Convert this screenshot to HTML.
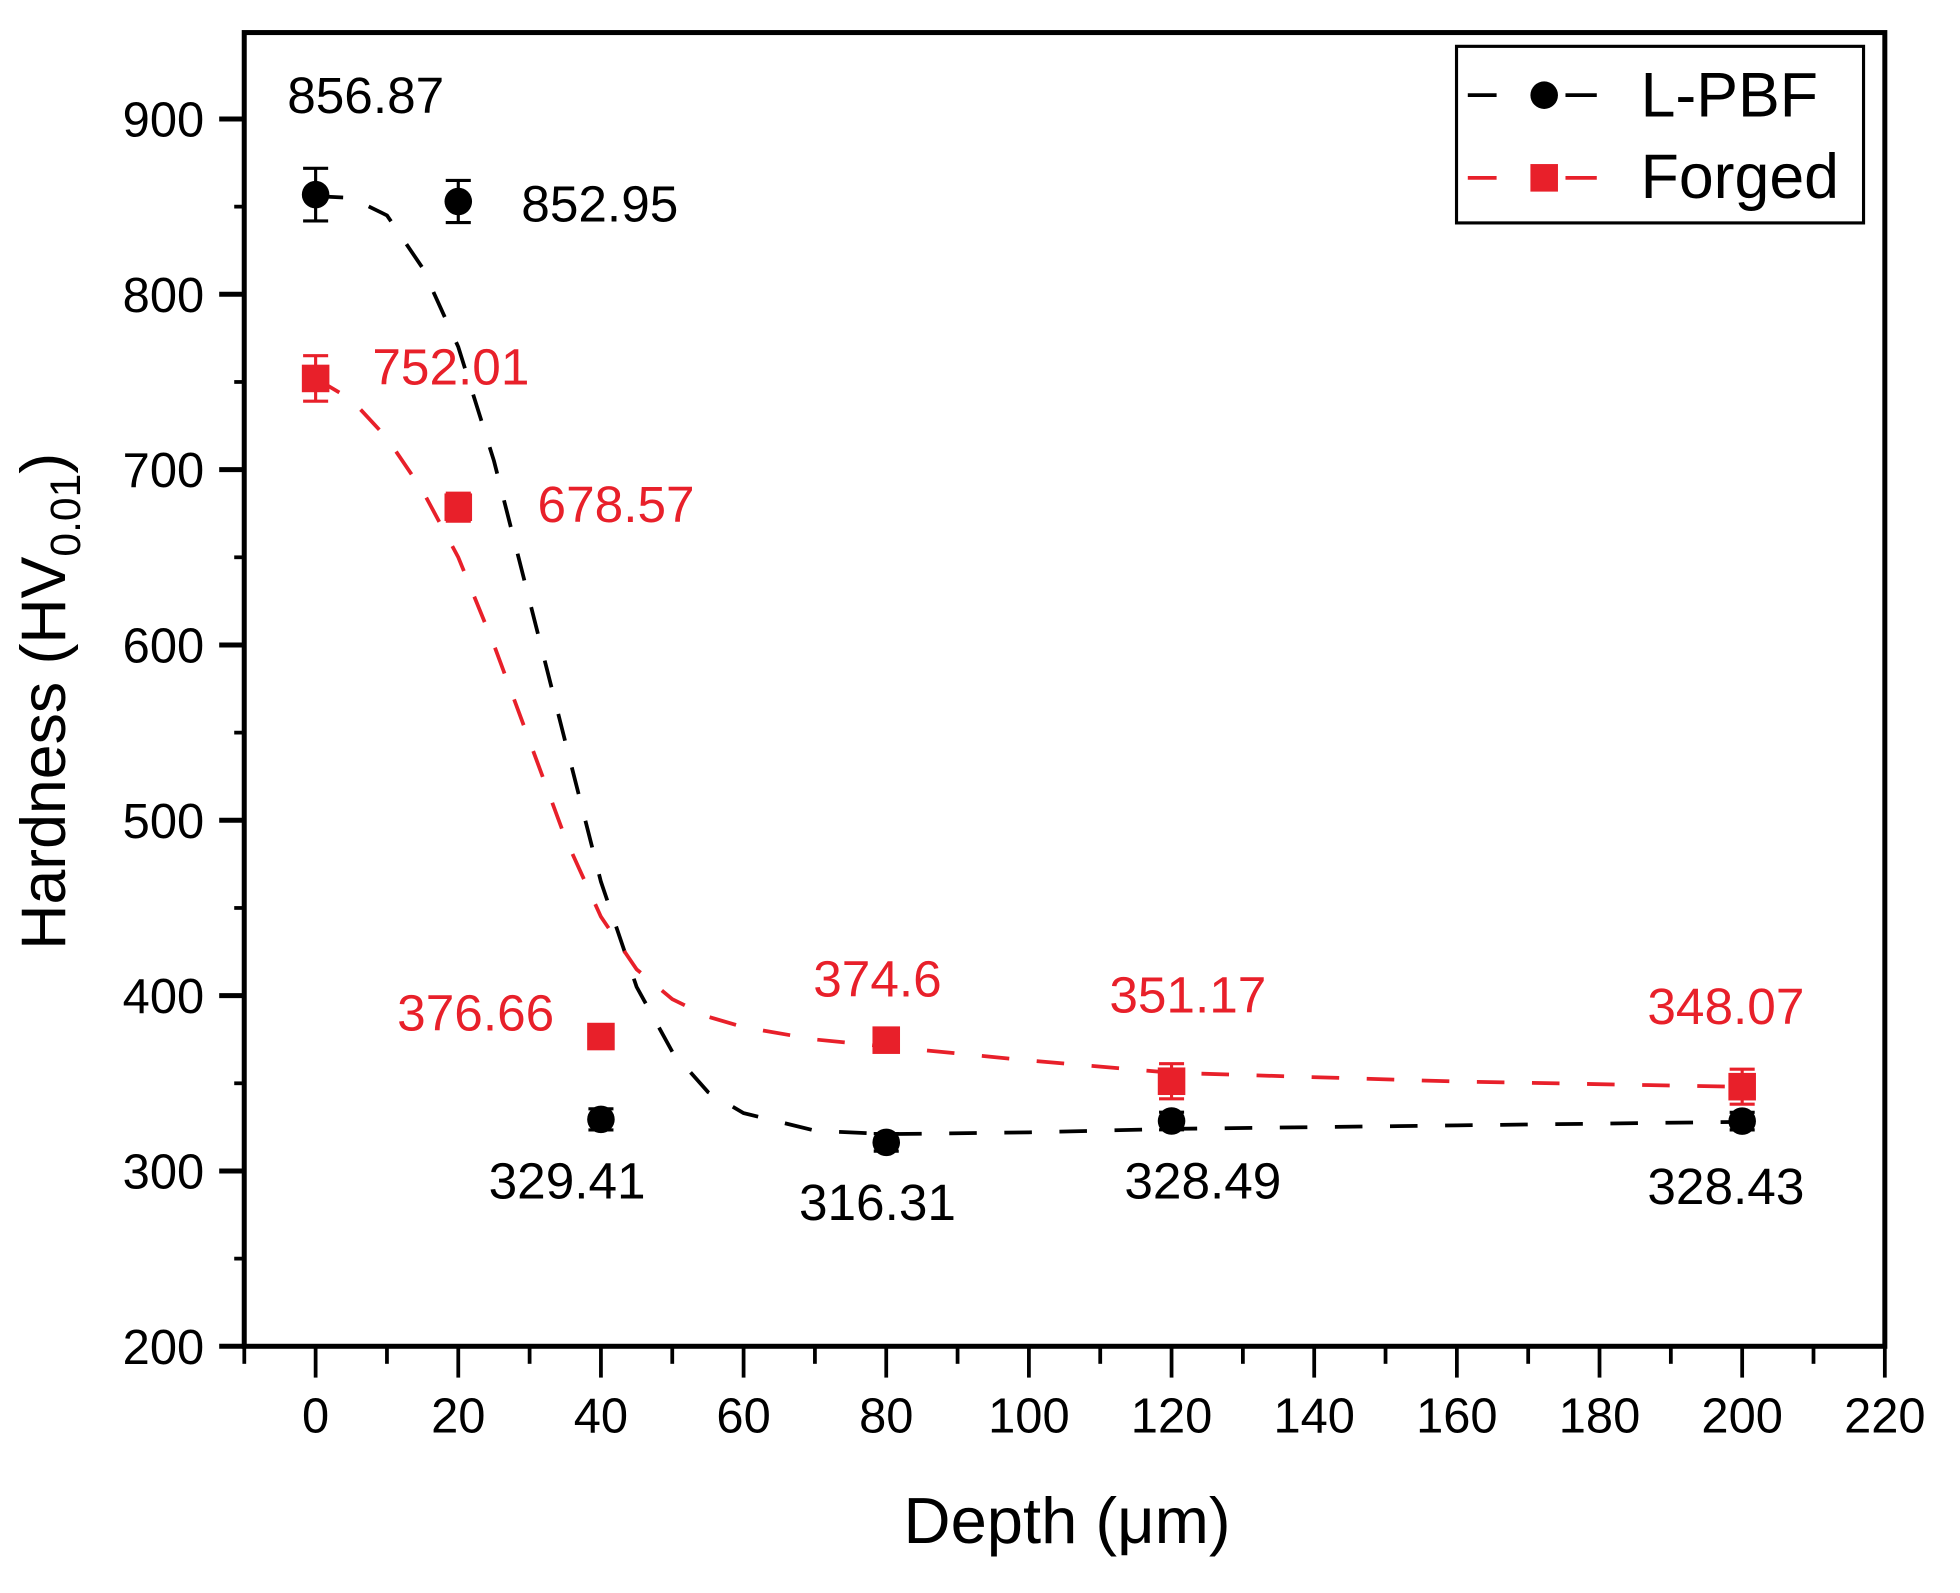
<!DOCTYPE html>
<html><head><meta charset="utf-8"><style>
html,body{margin:0;padding:0;background:#fff;}
svg{display:block;font-family:"Liberation Sans",Arial,sans-serif;}
</style></head><body>
<svg id="chart" width="1960" height="1593" viewBox="0 0 1565 1272" xmlns="http://www.w3.org/2000/svg">
<g id="axes"></g>
<g id="curves"></g>
<g id="marks"></g>
<g id="labels"></g>
<text x="852" y="1232" font-size="52" text-anchor="middle">Depth (μm)</text>
<text transform="translate(52,560) rotate(-90)" font-size="50" text-anchor="middle">Hardness (HV<tspan font-size="34" dy="12">0.01</tspan><tspan dy="-12">)</tspan></text>
<g>
<rect x="1163" y="37" width="325" height="141" fill="#fff" stroke="#000" stroke-width="2.5"/>
<line x1="1172" y1="76" x2="1195" y2="76" stroke="#000" stroke-width="3"/>
<line x1="1250" y1="76" x2="1275" y2="76" stroke="#000" stroke-width="3"/>
<circle cx="1233" cy="76" r="11" fill="#000"/>
<text x="1310" y="93" font-size="50">L-PBF</text>
<line x1="1172" y1="142" x2="1195" y2="142" stroke="#e8202a" stroke-width="3"/>
<line x1="1250" y1="142" x2="1275" y2="142" stroke="#e8202a" stroke-width="3"/>
<rect x="1222" y="131" width="22" height="22" fill="#e8202a"/>
<text x="1310" y="158" font-size="50">Forged</text>
</g>
</svg>
<script>
const depths=[0,20,40,80,120,200];
const lpbf=[856.87,852.95,329.41,316.31,328.49,328.43];
const lpbfErr=[15,12,6,5,5,5];
const forged=[752.01,678.57,376.66,374.6,351.17,348.07];
const forgedErr=[13,8,5,5,10,10];
const lpbfLabels=["856.87","852.95","329.41","316.31","328.49","328.43"];
const forgedLabels=["752.01","678.57","376.66","374.6","351.17","348.07"];
const fitX=[0,5,10,15,20,25,30,35,40,45,50,55,60,70,80,100,120,160,200];
const lpbfFit=[856,855,845,815,770,705,625,545,465,405,368,345,333,323,321,322,324,326,328];
const forgedFit=[752,740,718,688,650,600,545,490,445,415,398,388,382,375,371,363,356,351,348];
const xTicks=[0,20,40,60,80,100,120,140,160,180,200,220];
const yTicks=[200,300,400,500,600,700,800,900];

const L=195,R=1505,T=26,B=1075;
const X=v=>252+(v-0)*(1505-252)/220;
const Y=v=>1075-(v-200)*(1075-95)/700;
const NS="http://www.w3.org/2000/svg";
function mk(tag,attrs,parent,text){const e=document.createElementNS(NS,tag);for(const k in attrs)e.setAttribute(k,attrs[k]);if(text!==undefined)e.textContent=text;parent.appendChild(e);return e;}
const axes=document.getElementById('axes');
const frame=mk('rect',{x:L,y:T,width:R-L,height:B-T,fill:'none',stroke:'#000','stroke-width':4},axes);


yTicks.forEach(v=>{
  const t=mk('line',{x1:L-20,x2:L,y1:Y(v),y2:Y(v),stroke:'#000','stroke-width':4},axes);
  
  
  if(v<900){const m=mk('line',{x1:L-8,x2:L,y1:Y(v+50),y2:Y(v+50),stroke:'#000','stroke-width':3},axes);
  
  }
  const l=mk('text',{x:L-32,y:Y(v)+14,'font-size':39,'text-anchor':'end'},axes,String(v));
  
  
});
xTicks.forEach(v=>{
  const t=mk('line',{x1:X(v),x2:X(v),y1:B,y2:B+25,stroke:'#000','stroke-width':3},axes);
  
  
  const m=mk('line',{x1:X(v-10),x2:X(v-10),y1:B,y2:B+14,stroke:'#000','stroke-width':3},axes);
  
  
  const l=mk('text',{x:X(v),y:1144,'font-size':39,'text-anchor':'middle'},axes,String(v));
  
  
});
const curves=document.getElementById('curves');
function path(xs,ys){return xs.map((x,i)=>(i?'L':'M')+X(x).toFixed(1)+','+Y(ys[i]).toFixed(1)).join(' ');}
const c1=mk('path',{d:path(fitX,lpbfFit),fill:'none',stroke:'#000','stroke-width':3,'stroke-dasharray':'22,22'},curves);


const c2=mk('path',{d:path(fitX,forgedFit),fill:'none',stroke:'#e8202a','stroke-width':3,'stroke-dasharray':'22,22'},curves);


const marks=document.getElementById('marks');
function err(x,v,e,col){
  const g=mk('g',{stroke:col,'stroke-width':2.5},marks);
  
  
  mk('line',{x1:X(x),x2:X(x),y1:Y(v+e),y2:Y(v-e)},g);
  mk('line',{x1:X(x)-10,x2:X(x)+10,y1:Y(v+e),y2:Y(v+e)},g);
  mk('line',{x1:X(x)-10,x2:X(x)+10,y1:Y(v-e),y2:Y(v-e)},g);
}
depths.forEach((d,i)=>{
  err(d,forged[i],forgedErr[i],'#e8202a');
  const r=mk('rect',{x:X(d)-11,y:Y(forged[i])-11,width:22,height:22,fill:'#e8202a'},marks);
  
  
  err(d,lpbf[i],lpbfErr[i],'#000');
  const c=mk('circle',{cx:X(d),cy:Y(lpbf[i]),r:11,fill:'#000'},marks);
  
  
});
const labels=document.getElementById('labels');
const lpOff=[[40,-65],[113,16],[-27,63],[-7,62],[25,62],[-13,66]];
const fgOff=[[108,5],[126,12],[-100,-5],[-7,-35],[13,-55],[-13,-50]];
depths.forEach((d,i)=>{
  const a=mk('text',{x:X(d)+lpOff[i][0],y:Y(lpbf[i])+lpOff[i][1],'font-size':41,'text-anchor':'middle',fill:'#000'},labels,lpbfLabels[i]);
  
  
  const b=mk('text',{x:X(d)+fgOff[i][0],y:Y(forged[i])+fgOff[i][1],'font-size':41,'text-anchor':'middle',fill:'#e8202a'},labels,forgedLabels[i]);
  
  
});
</script>
</body></html>
